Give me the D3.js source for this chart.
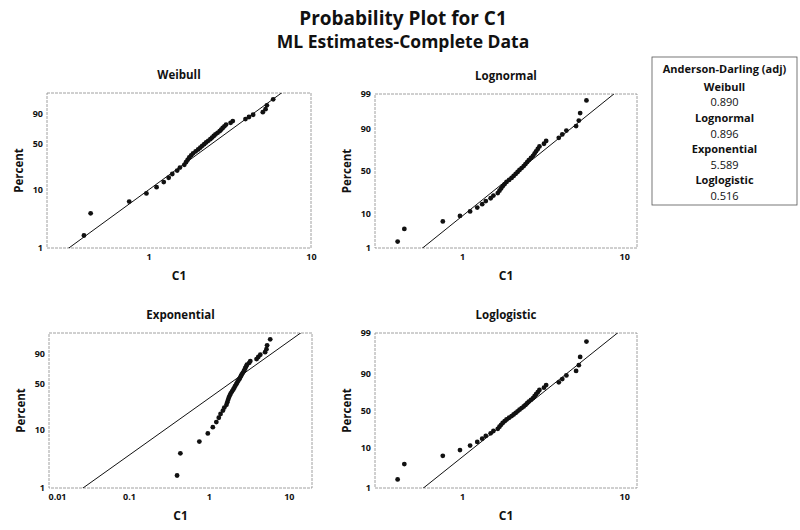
<!DOCTYPE html>
<html>
<head>
<meta charset="utf-8">
<title>Probability Plot for C1</title>
<style>
  body { margin: 0; background: #fff; }
  svg text { font-family: "Open Sans", Lato, sans-serif; fill: #111; }
</style>
</head>
<body>
<div id="chart"></div>
<script src="https://cdn.jsdelivr.net/npm/d3@7"></script>
<script>
// C1, sorted (n = 42)
var c1 = [0.40, 0.44, 0.76, 0.97, 1.12, 1.24, 1.33, 1.40, 1.50, 1.56,
          1.66, 1.70, 1.74, 1.78, 1.83, 1.88, 1.95, 2.02, 2.08, 2.14,
          2.20, 2.26, 2.33, 2.40, 2.46, 2.52, 2.58, 2.66, 2.74, 2.80,
          2.86, 2.93, 3.00, 3.20, 3.30, 3.95, 4.15, 4.40, 5.05, 5.25,
          5.35, 5.85];

var distNames = ["Weibull", "Lognormal", "Exponential", "Loglogistic"];
var adValues = ["0.890", "0.896", "5.589", "0.516"];

// ML fits
var weibullParams = [2.08, 2.95];       // shape, scale
var lognormalParams = [0.797, 0.584];   // location, scale
var exponentialParams = [2.65];         // scale
var loglogisticParams = [0.829, 0.30];  // location, scale

var pctTicksW = [1, 10, 50, 90];
var pctTicksN = [1, 10, 50, 90, 99];
var xTicksA = [1, 10];
var xTicksE = [0.01, 0.1, 1, 10];

// inverse normal cdf (Acklam)
function qnorm(p) {
  var a = [-39.69683028665376, 220.9460984245205, -275.9285104469687, 138.3577518672690, -30.66479806614716, 2.506628277459239];
  var b = [-54.47609879822406, 161.5858368580409, -155.6989798598866, 66.80131188771972, -13.28068155288572];
  var c = [-0.007784894002430293, -0.3223964580411365, -2.400758277161838, -2.549732539343734, 4.374664141464968, 2.938163982698783];
  var d = [0.007784695709041462, 0.3224671290700398, 2.445134137142996, 3.754408661907416];
  var q, r;
  if (p < 0.02425) {
    q = Math.sqrt(-2 * Math.log(p));
    return (((((c[0]*q+c[1])*q+c[2])*q+c[3])*q+c[4])*q+c[5]) / ((((d[0]*q+d[1])*q+d[2])*q+d[3])*q+1);
  } else if (p > 1 - 0.02425) {
    q = Math.sqrt(-2 * Math.log(1 - p));
    return -(((((c[0]*q+c[1])*q+c[2])*q+c[3])*q+c[4])*q+c[5]) / ((((d[0]*q+d[1])*q+d[2])*q+d[3])*q+1);
  }
  q = p - 0.5; r = q * q;
  return (((((a[0]*r+a[1])*r+a[2])*r+a[3])*r+a[4])*r+a[5])*q / (((((b[0]*r+b[1])*r+b[2])*r+b[3])*r+b[4])*r+1);
}
function sev(p) { return Math.log(-Math.log(1 - p)); }
function logit(p) { return Math.log(p / (1 - p)); }

var yTrans = { Weibull: sev, Lognormal: qnorm, Exponential: sev, Loglogistic: logit };
var fitY = {
  Weibull: function(x) { return weibullParams[0] * (Math.log(x) - Math.log(weibullParams[1])); },
  Lognormal: function(x) { return (Math.log(x) - lognormalParams[0]) / lognormalParams[1]; },
  Exponential: function(x) { return Math.log(x / exponentialParams[0]); },
  Loglogistic: function(x) { return (Math.log(x) - loglogisticParams[0]) / loglogisticParams[1]; }
};

// median ranks (Benard)
var n = c1.length;
var ranks = c1.map(function(v, i) { return (i + 1 - 0.3) / (n + 0.4); });

var W = 800, H = 530;
var svg = d3.select("#chart").append("svg").attr("width", W).attr("height", H);

svg.append("text").attr("x", 403).attr("y", 25).attr("text-anchor", "middle")
  .attr("font-size", "19px").attr("font-weight", "bold").text("Probability Plot for C1");
svg.append("text").attr("x", 403).attr("y", 48).attr("text-anchor", "middle")
  .attr("font-size", "17.5px").attr("font-weight", "bold").text("ML Estimates-Complete Data");

var panels = [
  {left: 47,  top: 93,  w: 264, h: 155, xdom: [0.237, 10], pdom: [0.01, 0.995], xt: xTicksA, pt: pctTicksW},
  {left: 375, top: 94,  w: 262, h: 154, xdom: [0.29, 12],  pdom: [0.01, 0.99],  xt: xTicksA, pt: pctTicksN},
  {left: 49,  top: 333, w: 263, h: 155, xdom: [0.01, 19.5], pdom: [0.01, 0.995], xt: xTicksE, pt: pctTicksW},
  {left: 375, top: 333, w: 262, h: 155, xdom: [0.29, 12],  pdom: [0.01, 0.99],  xt: xTicksA, pt: pctTicksN}
];

panels.forEach(function(p, k) {
  var name = distNames[k];
  var tf = yTrans[name];
  var g = svg.append("g").attr("transform", "translate(" + p.left + "," + p.top + ")");

  var x = d3.scaleLog().domain(p.xdom).range([0, p.w]);
  var y = d3.scaleLinear().domain([tf(p.pdom[0]), tf(p.pdom[1])]).range([p.h, 0]);

  g.append("clipPath").attr("id", "clip" + k)
    .append("rect").attr("width", p.w).attr("height", p.h);

  var xAxis = d3.axisBottom(x).tickValues(p.xt).tickSize(0).tickPadding(6)
    .tickFormat(function(d) { return String(d); });
  var yAxis = d3.axisLeft(y).tickValues(p.pt.map(function(v) { return tf(v / 100); }))
    .tickSize(0).tickPadding(4)
    .tickFormat(function(d, i) { return p.pt[i]; });

  var gx = g.append("g").attr("transform", "translate(0," + p.h + ")").call(xAxis);
  var gy = g.append("g").call(yAxis);
  [gx, gy].forEach(function(a) {
    a.select(".domain").remove();
    a.selectAll("text").attr("font-family", "'Open Sans', sans-serif").attr("font-size", "9px")
      .attr("font-weight", "bold").attr("fill", "#111");
  });
  // first x label sits at the frame corner
  gx.selectAll(".tick text").filter(function(d) { return d === p.xdom[0]; })
    .attr("text-anchor", "start").attr("dx", "-1");

  g.append("rect").attr("width", p.w).attr("height", p.h)
    .attr("fill", "none").attr("stroke", "#888").attr("stroke-width", 0.8)
    .attr("stroke-dasharray", "3,1");

  // fitted line
  var line = d3.line().x(function(d) { return x(d); }).y(function(d) { return y(fitY[name](d)); });
  g.append("path").datum(p.xdom).attr("clip-path", "url(#clip" + k + ")")
    .attr("d", line).attr("fill", "none").attr("stroke", "#111").attr("stroke-width", 1);

  // data points
  g.append("g").selectAll("circle").data(c1).enter().append("circle")
    .attr("cx", function(d) { return x(d); })
    .attr("cy", function(d, i) { return y(tf(ranks[i])); })
    .attr("r", 2.4).attr("fill", "#111");

  g.append("text").attr("x", p.w / 2).attr("y", -14).attr("text-anchor", "middle")
    .attr("font-size", "11.5px").attr("font-weight", "bold").text(name);
  g.append("text").attr("x", p.w / 2).attr("y", p.h + 32).attr("text-anchor", "middle")
    .attr("font-size", "12px").attr("font-weight", "bold").text("C1");
  g.append("text").attr("transform", "translate(-28," + (p.h / 2) + ") rotate(-90)")
    .attr("text-anchor", "middle").attr("dy", "0.35em")
    .attr("font-size", "11.5px").attr("font-weight", "bold").text("Percent");
});

// Anderson-Darling box
var box = svg.append("g").attr("transform", "translate(652,57)");
box.append("rect").attr("width", 145).attr("height", 148)
  .attr("fill", "#fff").attr("stroke", "#555").attr("stroke-width", 0.8);
box.append("text").attr("x", 72.5).attr("y", 12.3).attr("dy", "0.35em").attr("text-anchor", "middle")
  .attr("font-size", "11px").attr("font-weight", "bold").text("Anderson-Darling (adj)");
distNames.forEach(function(d, i) {
  box.append("text").attr("x", 72.5).attr("y", 30.3 + i * 31.1).attr("dy", "0.35em")
    .attr("text-anchor", "middle").attr("font-size", "11px").attr("font-weight", "bold").text(d);
  box.append("text").attr("x", 72.5).attr("y", 45.6 + i * 31.1).attr("dy", "0.35em")
    .attr("text-anchor", "middle").attr("font-size", "11px").text(adValues[i]);
});
</script>
</body>
</html>
